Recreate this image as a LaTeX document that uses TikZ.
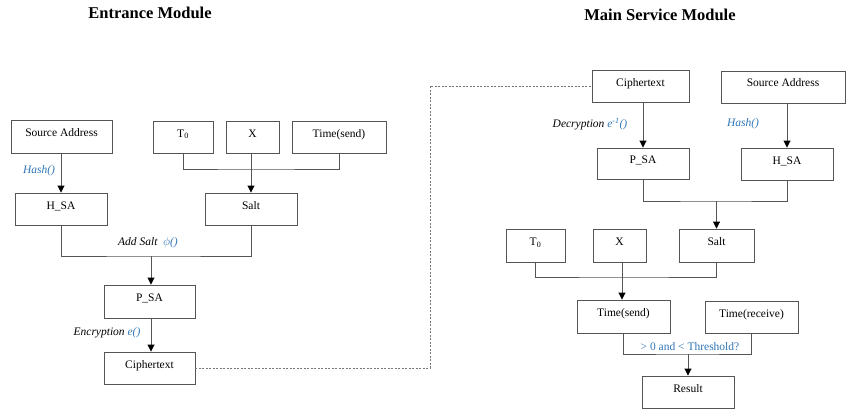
\documentclass[tikz,border=0pt]{standalone}
\usepackage{fontspec}
\setmainfont{Liberation Serif}
\usetikzlibrary{arrows.meta}
\definecolor{lblue}{RGB}{46,117,182}
\definecolor{boxgray}{RGB}{85,85,85}
\begin{document}
\begin{tikzpicture}[x=1pt,y=-1pt,
  box/.style={draw=boxgray, line width=0.9pt, rectangle, inner sep=0pt,
    text height=8pt, text depth=8pt, font=\fontsize{11.5}{13}\selectfont},
  conn/.style={draw=boxgray, line width=0.9pt},
  arr/.style={conn, -{Triangle[length=7pt,width=7pt,fill=black,color=black]}},
  dashlink/.style={draw=boxgray!80, line width=0.6pt, dash pattern=on 2pt off 1.5pt},
  lbl/.style={font=\fontsize{11.5}{13}\selectfont\itshape, inner sep=0pt},
  title/.style={font=\fontsize{16.5}{18}\selectfont\bfseries, inner sep=0pt}]
\useasboundingbox (0,0) rectangle (849,412);

% titles
\node[title] (t1) at (150,13) {Entrance Module};
\node[title] (t2) at (660,15) {Main Service Module};

% ---------- Entrance module ----------
\node[box, minimum width=101pt, minimum height=33pt] (sa1) at (61.5,136.5) {Source Address};
\node[box, minimum width=60pt, minimum height=32pt] (t01) at (183,137) {T\textsubscript{0}};
\node[box, minimum width=53pt, minimum height=32pt] (x1) at (252.5,137) {X};
\node[box, minimum width=94pt, minimum height=32pt] (ts1) at (339,137) {Time(send)};
\node[box, minimum width=92pt, minimum height=32pt] (hsa1) at (61,209) {H\_SA};
\node[box, minimum width=92pt, minimum height=32pt] (salt1) at (251,209) {Salt};
\node[box, minimum width=91pt, minimum height=33pt] (psa1) at (149.5,301.5) {P\_SA};
\node[box, minimum width=91pt, minimum height=32pt] (ct1) at (149.5,368) {Ciphertext};

\coordinate (j1) at (251,169);
\coordinate (j2) at (151,256);
\draw[conn] (t01.south) |- (j1) -| (ts1.south);
\draw[arr] (x1.south -| salt1.north) -- (salt1.north);
\draw[arr] (sa1.south -| hsa1.north) -- (hsa1.north);
\draw[conn] (hsa1.south) |- (j2) -| (salt1.south);
\draw[arr] (j2) -- (psa1.north -| j2);
\draw[arr] (psa1.south -| j2) -- (ct1.north -| j2);

\node[lbl, text=lblue] (lh1) at (39,171) {Hash()};
\node[lbl] (las) at (148,243) {Add Salt \ \textcolor{lblue}{$\phi$()}};
\node[lbl] (lenc) at (107,333) {Encryption \textcolor{lblue}{e()}};

% dashed link
\coordinate (d1) at (430,368);
\coordinate (d2) at (430,86);

% ---------- Main service module ----------
\node[box, minimum width=97pt, minimum height=32pt] (ct2) at (640.5,86) {Ciphertext};
\node[box, minimum width=124pt, minimum height=32pt] (sa2) at (783,87) {Source Address};
\node[box, minimum width=92pt, minimum height=31pt] (psa2) at (643,163.5) {P\_SA};
\node[box, minimum width=92pt, minimum height=32pt] (hsa2) at (787,164) {H\_SA};
\node[box, minimum width=75pt, minimum height=33pt] (salt2) at (716.5,245.5) {Salt};
\node[box, minimum width=59pt, minimum height=33pt] (t02) at (535.5,245.5) {T\textsubscript{0}};
\node[box, minimum width=53pt, minimum height=33pt] (x2) at (619.5,245.5) {X};
\node[box, minimum width=93pt, minimum height=33pt] (ts2) at (623.5,316.5) {Time(send)};
\node[box, minimum width=93pt, minimum height=32pt] (tr2) at (751.5,317) {Time(receive)};
\node[box, minimum width=92pt, minimum height=32pt] (res) at (688,392) {Result};

\draw[dashlink] (ct1.east) -- (ct1.east -| d1) -- (d2) -- (ct2.west);

\coordinate (j3) at (716.5,201);
\coordinate (j4) at (622,277);
\coordinate (j5) at (688,354);
\draw[arr] (ct2.south -| psa2.north) -- (psa2.north);
\draw[arr] (sa2.south -| hsa2.north) -- (hsa2.north);
\draw[conn] (psa2.south) |- (j3) -| (hsa2.south);
\draw[arr] (j3) -- (salt2.north);
\draw[conn] (t02.south) |- (j4) -| (salt2.south);
\draw[arr] (x2.south -| j4) -- (ts2.north -| j4);
\draw[conn] (ts2.south) |- (j5) -| (tr2.south);
\draw[arr] (j5) -- (res.north);

\node[lbl] (ldec) at (590,124) {Decryption \textcolor{lblue}{e\textsuperscript{-1}()}};
\node[lbl, text=lblue] (lh2) at (743,124) {Hash()};
\node[inner sep=0pt, text=lblue, font=\fontsize{11.5}{13}\selectfont] (lthr) at (690,347) {> 0 and < Threshold?};
\end{tikzpicture}
\end{document}
